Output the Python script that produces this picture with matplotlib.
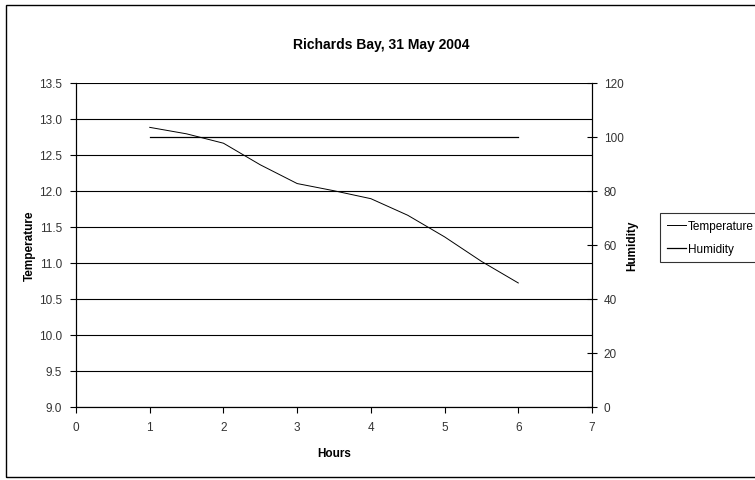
import matplotlib
matplotlib.use("Agg")
import matplotlib.pyplot as plt
from matplotlib.patches import Rectangle

plt.rcParams['font.family'] = ['Liberation Sans Narrow', 'Liberation Sans', 'DejaVu Sans']

# data
hours = [1.0, 1.5, 2.0, 2.5, 3.0, 3.5, 4.0, 4.5, 5.0, 5.5, 6.0]
temperature = [12.88, 12.79, 12.66, 12.36, 12.10, 12.00, 11.89, 11.66, 11.36, 11.02, 10.72]
humidity = [100, 100, 100, 100, 100, 100, 100, 100, 100, 100, 100]

x_ticks = [0, 1, 2, 3, 4, 5, 6, 7]
temp_ticks = [9.0, 9.5, 10.0, 10.5, 11.0, 11.5, 12.0, 12.5, 13.0, 13.5]
hum_ticks = [0, 20, 40, 60, 80, 100, 120]

fig = plt.figure(figsize=(7.55, 4.81), dpi=100)
ax = fig.add_axes([0.1007, 0.152, 0.6834, 0.674])
ax2 = ax.twinx()

l1, = ax.plot(hours, temperature, color='black', linewidth=0.7, label='Temperature')
l2, = ax2.plot(hours, humidity, color='black', linewidth=0.9, label='Humidity')

ax.set_xlim(0, 7)
ax.set_ylim(9.0, 13.5)
ax2.set_ylim(0, 120)
ax.set_xticks(x_ticks)
ax.set_yticks(temp_ticks)
ax.set_yticklabels([f"{t:.1f}" for t in temp_ticks])
ax2.set_yticks(hum_ticks)

ax.yaxis.grid(True, color='black', linewidth=0.8)
ax.set_axisbelow(True)

for a in (ax, ax2):
    for s in a.spines.values():
        s.set_linewidth(0.8)
        s.set_color('black')
    a.spines['top'].set_visible(False)

ax.tick_params(axis='both', direction='out', length=4, width=0.8, labelsize=8.5,
               labelcolor='#333333', pad=6)
ax2.tick_params(axis='y', direction='inout', length=7, width=0.8, labelsize=8.5,
                labelcolor='#333333', pad=5)

ax.set_xlabel('Hours', fontsize=8.5, fontweight='bold', labelpad=10)
ax.set_ylabel('Temperature', fontsize=8.5, fontweight='bold', labelpad=2)
ax2.set_ylabel('Humidity', fontsize=8.5, fontweight='bold', labelpad=2)

fig.text(0.505, 0.906, 'Richards Bay, 31 May 2004', ha='center', va='center',
         fontsize=10, fontweight='bold')

leg = fig.legend([l1, l2], ['Temperature', 'Humidity'], loc='upper left',
                 bbox_to_anchor=(0.874, 0.555), fontsize=8.5, frameon=True,
                 fancybox=False, edgecolor='black', handlelength=1.6,
                 handletextpad=0.2, borderpad=0.6, labelspacing=0.9,
                 borderaxespad=0)
leg.get_frame().set_linewidth(0.8)

# outer chart border (right edge cut off like the scan)
fig.patches.append(Rectangle((0.008, 0.006), 1.1, 0.982, transform=fig.transFigure,
                             fill=False, edgecolor='black', linewidth=1.0))

fig.savefig('out.png', dpi=100)
